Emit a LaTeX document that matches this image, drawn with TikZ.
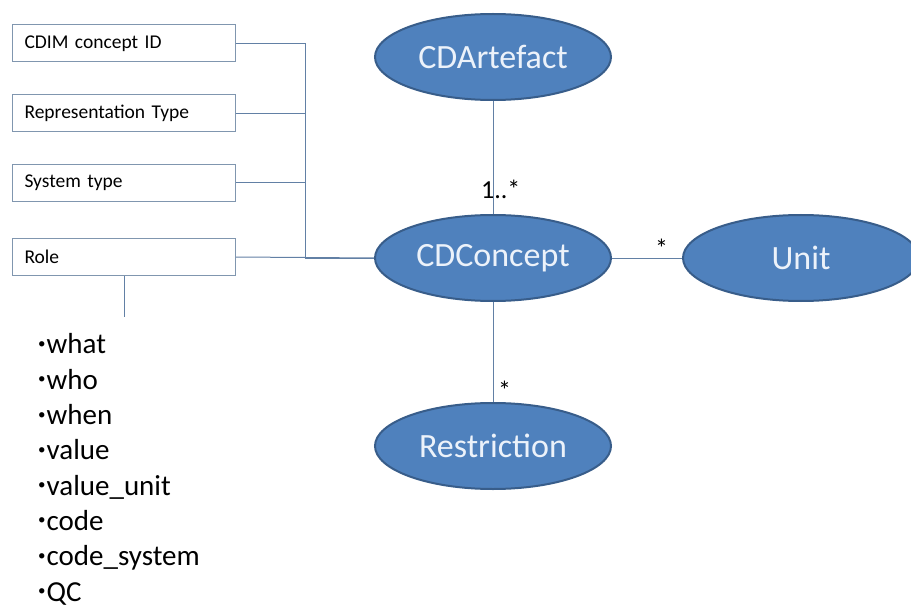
\documentclass[tikz,border=0pt]{standalone}
\usepackage{fontspec}
\setmainfont{Carlito}
\usetikzlibrary{shapes.geometric}
\definecolor{ovalfill}{RGB}{79,129,189}
\definecolor{ovalline}{RGB}{56,93,138}
\definecolor{ovaltext}{RGB}{236,242,250}
\definecolor{wire}{RGB}{98,128,165}
\definecolor{boxline}{RGB}{128,150,175}
% small raised bullet for the value list
\newcommand\valbul{\raisebox{5.5pt}{\fontsize{15}{15}\selectfont•}\hspace{1pt}}
\tikzset{
  attrbox/.style={draw=boxline, line width=1pt, rectangle, anchor=west,
    minimum width=223pt, minimum height=37pt, text width=199pt,
    inner xsep=12pt, align=left, font=\fontsize{19.5}{21}\selectfont},
  entity/.style={ellipse, draw=ovalline, fill=ovalfill, line width=2pt,
    minimum width=236pt, minimum height=86pt, inner sep=0pt,
    text=ovaltext, font=\fontsize{34}{38}\selectfont},
  wireline/.style={draw=wire, line width=1pt},
  mult/.style={inner sep=0pt, anchor=base west, font=\fontsize{26}{28}\selectfont},
}
\begin{document}
\begin{tikzpicture}[x=1pt, y=-1pt]
  \useasboundingbox (0,0) rectangle (911,607);

  % attribute boxes on the left
  \node[attrbox] (cdim) at (12,43.5) {CDIM concept ID};
  \node[attrbox] (rept) at (12,113.5) {Representation Type};
  \node[attrbox] (syst) at (12,183) {System type};
  \node[attrbox] (role) at (12,257) {Role};

  % entities
  \node[entity] (artefact) at (493,57) {CDArtefact};
  \node[entity] (concept) at (493,258) {CDConcept};
  \node[entity] (unit) at (801,258) {Unit};
  \node[entity] (restr) at (493,446) {Restriction};

  % bus joining the attribute boxes to CDConcept
  \coordinate (bustop) at (305,43.5);
  \coordinate (busbot) at (305,258);
  \draw[wireline] (cdim.east) -- (bustop) -- (busbot) -- (concept.west);
  \draw[wireline] (rept.east) -- (rept.east -| bustop);
  \draw[wireline] (syst.east) -- (syst.east -| bustop);
  \draw[wireline] (role.east) -- (concept.west);

  % stub under Role towards its value list
  \coordinate (rolestub) at (124,317);
  \draw[wireline] (role.south -| rolestub) -- (rolestub);

  % associations
  \draw[wireline] (artefact.south) -- (concept.north);
  \draw[wireline] (concept.east) -- (unit.west);
  \draw[wireline] (concept.south) -- (restr.north);

  % multiplicities
  \node[mult] (m1) at (481,199) {1..*};
  \node[mult] (m2) at (655,257) {*};
  \node[mult] (m3) at (498,399) {*};

  % role values
  \node[anchor=base west, inner sep=0pt, align=left,
        font=\fontsize{29}{35.3}\selectfont] (rolevals) at (38,601)
    {\valbul what\\\valbul who\\\valbul when\\\valbul value\\\valbul value\_unit\\
     \valbul code\\\valbul code\_system\\\valbul QC};
\end{tikzpicture}
\end{document}
